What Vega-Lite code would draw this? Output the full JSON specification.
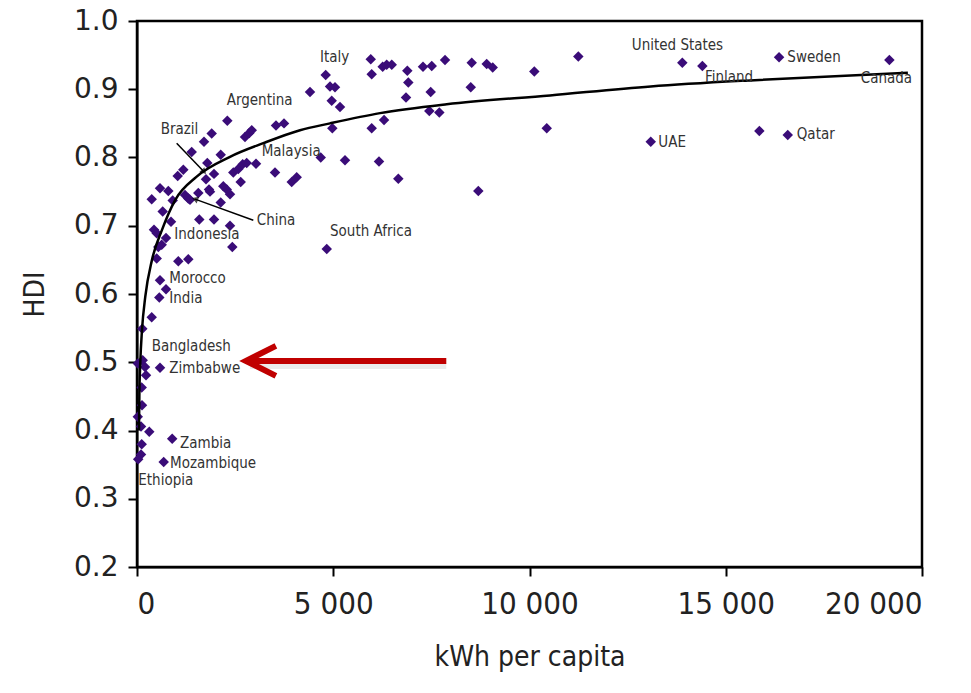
{
  "$schema": "https://vega.github.io/schema/vega-lite/v6.json",
  "autosize": "none",
  "width": 785,
  "height": 546,
  "padding": {"left": 137, "top": 21, "right": 49, "bottom": 126},
  "background": "white",
  "config": {
    "view": {"stroke": "black", "strokeWidth": 2.5},
    "axis": {"grid": false, "domainColor": "black", "domainWidth": 2, "tickColor": "black", "tickWidth": 2, "tickSize": 9, "labelColor": "#222", "titleColor": "#222", "titleFontWeight": "normal"}
  },
  "datasets": {
    "pts": [
      {"x":5955,"y":0.944},{"x":5980,"y":0.922},{"x":6260,"y":0.933},{"x":6362,"y":0.936},{"x":6490,"y":0.936},
      {"x":6887,"y":0.927},{"x":6913,"y":0.910},{"x":6854,"y":0.888},{"x":7287,"y":0.933},{"x":7509,"y":0.934},
      {"x":7848,"y":0.943},{"x":8528,"y":0.939},{"x":8503,"y":0.903},{"x":7483,"y":0.896},{"x":7448,"y":0.868},
      {"x":7703,"y":0.866},{"x":4808,"y":0.921,"country":"Italy"},{"x":4918,"y":0.904},{"x":5045,"y":0.903},{"x":4408,"y":0.896},
      {"x":4961,"y":0.883},{"x":5172,"y":0.874},{"x":3746,"y":0.850},{"x":3542,"y":0.847},{"x":4976,"y":0.843},
      {"x":5980,"y":0.843},{"x":6294,"y":0.855},{"x":4681,"y":0.800},{"x":5300,"y":0.796},{"x":6166,"y":0.794},
      {"x":6658,"y":0.769},{"x":3942,"y":0.764},{"x":4069,"y":0.771},{"x":4834,"y":0.666,"country":"South Africa"},{"x":8696,"y":0.751},
      {"x":8910,"y":0.937},{"x":9063,"y":0.932},{"x":10123,"y":0.926},{"x":11244,"y":0.948},{"x":10439,"y":0.843},
      {"x":13894,"y":0.939,"country":"United States"},{"x":14404,"y":0.934,"country":"Finland"},{"x":16358,"y":0.947,"country":"Sweden"},{"x":19169,"y":0.943,"country":"Canada"},
      {"x":13089,"y":0.823,"country":"UAE"},{"x":15856,"y":0.839},{"x":16580,"y":0.833,"country":"Qatar"},
      {"x":2301,"y":0.854,"country":"Argentina"},{"x":2752,"y":0.830},{"x":2861,"y":0.836},{"x":2923,"y":0.840},{"x":1903,"y":0.835},
      {"x":1707,"y":0.823},{"x":1394,"y":0.808},{"x":2133,"y":0.804},{"x":1791,"y":0.792,"country":"Brazil"},{"x":1180,"y":0.782},
      {"x":1037,"y":0.773},{"x":1962,"y":0.776},{"x":1758,"y":0.768},{"x":2454,"y":0.778},{"x":2581,"y":0.783},
      {"x":2693,"y":0.790},{"x":2795,"y":0.792},{"x":3032,"y":0.791,"country":"Malaysia"},{"x":2642,"y":0.764},{"x":3516,"y":0.778},
      {"x":586,"y":0.755},{"x":798,"y":0.751},{"x":375,"y":0.739},{"x":910,"y":0.737},{"x":1223,"y":0.745,"country":"China"},
      {"x":1307,"y":0.740},{"x":1350,"y":0.738},{"x":1562,"y":0.748},{"x":1835,"y":0.753},{"x":1860,"y":0.750},
      {"x":2199,"y":0.758},{"x":2286,"y":0.753},{"x":2370,"y":0.746},{"x":2133,"y":0.734},{"x":655,"y":0.721},
      {"x":866,"y":0.706},{"x":1587,"y":0.709},{"x":1962,"y":0.709},{"x":2370,"y":0.700},{"x":2428,"y":0.669},
      {"x":433,"y":0.694,"country":"Indonesia"},{"x":502,"y":0.689},{"x":739,"y":0.682},{"x":543,"y":0.669},{"x":629,"y":0.672},
      {"x":502,"y":0.652},{"x":1052,"y":0.648},{"x":1307,"y":0.651},{"x":586,"y":0.620,"country":"Morocco"},{"x":739,"y":0.607},
      {"x":568,"y":0.595,"country":"India"},{"x":375,"y":0.566},{"x":135,"y":0.549},{"x":20,"y":0.498},{"x":145,"y":0.503},
      {"x":204,"y":0.493,"country":"Bangladesh"},{"x":229,"y":0.481},{"x":586,"y":0.492,"country":"Zimbabwe"},{"x":120,"y":0.463},{"x":127,"y":0.437},
      {"x":20,"y":0.420},{"x":102,"y":0.406},{"x":313,"y":0.398},{"x":897,"y":0.388,"country":"Zambia"},{"x":120,"y":0.380},
      {"x":102,"y":0.365},{"x":30,"y":0.358,"country":"Ethiopia"},{"x":680,"y":0.354,"country":"Mozambique"}
    ],
    "curve": [
      {"x":50,"y":0.40},{"x":60,"y":0.45},{"x":84,"y":0.50},{"x":127,"y":0.547},{"x":211,"y":0.596},
      {"x":382,"y":0.65},{"x":637,"y":0.694},{"x":976,"y":0.738},{"x":1521,"y":0.772},{"x":2370,"y":0.801},
      {"x":3218,"y":0.821},{"x":4153,"y":0.84},{"x":4918,"y":0.85},{"x":6192,"y":0.865},{"x":7891,"y":0.878},
      {"x":10523,"y":0.891},{"x":13089,"y":0.904},{"x":15619,"y":0.913},{"x":19640,"y":0.924}
    ],
    "labels": [
      {"name":"Italy","x":4663,"y":0.947},{"name":"Argentina","x":2286,"y":0.884},{"name":"Brazil","x":604,"y":0.842},
      {"name":"Malaysia","x":3177,"y":0.809},{"name":"China","x":3050,"y":0.708},{"name":"Indonesia","x":950,"y":0.688},
      {"name":"South Africa","x":4918,"y":0.692},{"name":"Morocco","x":823,"y":0.623},{"name":"India","x":823,"y":0.594},
      {"name":"Bangladesh","x":375,"y":0.524},{"name":"Zimbabwe","x":823,"y":0.492},{"name":"Zambia","x":1096,"y":0.382},
      {"name":"Mozambique","x":841,"y":0.353},{"name":"Ethiopia","x":33,"y":0.328},{"name":"United States","x":12605,"y":0.965},
      {"name":"Finland","x":14473,"y":0.918},{"name":"Sweden","x":16570,"y":0.947},{"name":"Canada","x":18440,"y":0.916},
      {"name":"UAE","x":13283,"y":0.823},{"name":"Qatar","x":16809,"y":0.834}
    ],
    "arrows": [
      {"name":"Brazil","x":1011,"y":0.821,"x2":1707,"y2":0.779},
      {"name":"China","x":2963,"y":0.708,"x2":1478,"y2":0.739}
    ],
    "red": [{"x":2800,"x2":7880,"y":0.502}]
  },
  "layer": [
    {
      "data": {"name": "pts"},
      "mark": {"type": "point", "shape": "diamond", "filled": true, "size": 110, "color": "#3a0c78", "opacity": 1},
      "encoding": {
        "x": {"field": "x", "type": "quantitative", "scale": {"domain": [0, 20000]},
          "axis": {"values": [0, 5000, 10000, 15000, 20000], "labelExpr": "replace(format(datum.value, ','), ',', ' ')",
            "labelFont": "DejaVu Sans Condensed", "labelFontSize": 31, "labelPadding": 13,
            "title": "kWh per capita", "titleFont": "DejaVu Sans Condensed", "titleFontSize": 28, "titlePadding": 24}},
        "y": {"field": "y", "type": "quantitative", "scale": {"domain": [0.2, 1.0]},
          "axis": {"values": [0.2, 0.3, 0.4, 0.5, 0.6, 0.7, 0.8, 0.9, 1.0], "format": ".1f",
            "labelFont": "DejaVu Sans", "labelFontSize": 28, "labelPadding": 10,
            "title": "HDI", "titleFont": "DejaVu Sans Condensed", "titleFontSize": 28, "titlePadding": 24}}
      }
    },
    {
      "data": {"name": "curve"},
      "mark": {"type": "line", "color": "black", "strokeWidth": 2.5, "interpolate": "monotone"},
      "encoding": {
        "x": {"field": "x", "type": "quantitative"},
        "y": {"field": "y", "type": "quantitative"}
      }
    },
    {
      "data": {"name": "arrows"},
      "mark": {"type": "rule", "color": "black", "strokeWidth": 1.5},
      "encoding": {
        "x": {"field": "x", "type": "quantitative"},
        "y": {"field": "y", "type": "quantitative"},
        "x2": {"field": "x2"},
        "y2": {"field": "y2"}
      }
    },
    {
      "data": {"name": "arrows"},
      "transform": [{"filter": "datum.name === 'Brazil'"}],
      "mark": {"type": "point", "shape": "triangle-up", "filled": true, "size": 50, "color": "black", "angle": 136},
      "encoding": {
        "x": {"field": "x2", "type": "quantitative"},
        "y": {"field": "y2", "type": "quantitative"}
      }
    },
    {
      "data": {"name": "arrows"},
      "transform": [{"filter": "datum.name === 'China'"}],
      "mark": {"type": "point", "shape": "triangle-up", "filled": true, "size": 50, "color": "black", "angle": 290},
      "encoding": {
        "x": {"field": "x2", "type": "quantitative"},
        "y": {"field": "y2", "type": "quantitative"}
      }
    },
    {
      "data": {"name": "labels"},
      "mark": {"type": "text", "align": "left", "baseline": "middle", "font": "DejaVu Sans Condensed", "fontSize": 15, "color": "#333"},
      "encoding": {
        "x": {"field": "x", "type": "quantitative"},
        "y": {"field": "y", "type": "quantitative"},
        "text": {"field": "name"}
      }
    },
    {
      "data": {"name": "red"},
      "mark": {"type": "rule", "color": "#999", "opacity": 0.2, "strokeWidth": 6, "xOffset": 3, "yOffset": 5},
      "encoding": {
        "x": {"field": "x", "type": "quantitative"},
        "x2": {"field": "x2"},
        "y": {"field": "y", "type": "quantitative"}
      }
    },
    {
      "data": {"name": "red"},
      "mark": {"type": "rule", "color": "#C00000", "strokeWidth": 6},
      "encoding": {
        "x": {"field": "x", "type": "quantitative"},
        "x2": {"field": "x2"},
        "y": {"field": "y", "type": "quantitative"}
      }
    },
    {
      "data": {"name": "red"},
      "mark": {"type": "point", "shape": "M1,-1L-1,0L1,1", "filled": false, "size": 900, "stroke": "#C00000", "strokeWidth": 6, "strokeJoin": "miter", "xOffset": 14, "opacity": 1},
      "encoding": {
        "x": {"field": "x", "type": "quantitative"},
        "y": {"field": "y", "type": "quantitative"}
      }
    }
  ]
}
